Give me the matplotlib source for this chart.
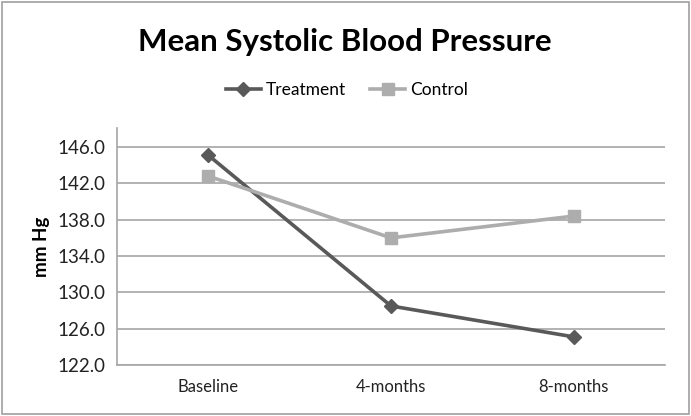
import matplotlib
matplotlib.use("Agg")
import matplotlib.pyplot as plt
from matplotlib.patches import Rectangle

categories = ["Baseline", "4-months", "8-months"]
treatment = [145.1, 128.5, 125.1]
control = [142.8, 136.0, 138.4]
yticks = [122, 126, 130, 134, 138, 142, 146]

plt.rcParams['font.family'] = ['Lato', 'DejaVu Sans']

fig = plt.figure(figsize=(6.91, 4.16), dpi=100)
ax = fig.add_axes([117 / 691, 1 - 365 / 416, (665 - 117) / 691, (365 - 128) / 416])

x = range(len(categories))
ax.plot(x, treatment, color='#595959', lw=2.6, marker='D', ms=7, label='Treatment')
ax.plot(x, control, color='#ADADAD', lw=2.6, marker='s', ms=9, label='Control')

ax.set_xlim(-0.5, 2.5)
ax.set_ylim(122, 148.1)
ax.set_yticks(yticks)
ax.set_yticklabels([f"{v:.1f}" for v in yticks])
ax.set_xticks(list(x))
ax.set_xticklabels(categories)
ax.tick_params(length=0, labelsize=12, pad=8, colors='#222222')
ax.tick_params(axis='y', labelsize=13.5)
ax.tick_params(axis='x', pad=10)
ax.grid(axis='y', color='#A6A6A6', lw=1.2)
ax.set_axisbelow(True)
for s in ['top', 'right']:
    ax.spines[s].set_visible(False)
for s in ['left', 'bottom']:
    ax.spines[s].set_color('#A6A6A6')
    ax.spines[s].set_linewidth(1.2)

ax.set_ylabel('mm Hg', fontsize=13.5, fontweight='bold', labelpad=6)

fig.text(345 / 691, 1 - 42 / 416, 'Mean Systolic Blood Pressure', ha='center', va='center',
         fontsize=22.5, fontweight='bold')
fig.legend(loc='center', bbox_to_anchor=(347 / 691, 1 - 90 / 416), ncol=2, frameon=False,
           fontsize=12.5, handlelength=2.0, columnspacing=1.4, handletextpad=0.3)

fig.patches.append(Rectangle((0.003, 0.004), 0.994, 0.992, transform=fig.transFigure,
                             fill=False, edgecolor='#A0A0A0', lw=1.2))

fig.savefig('out.png', dpi=100)
